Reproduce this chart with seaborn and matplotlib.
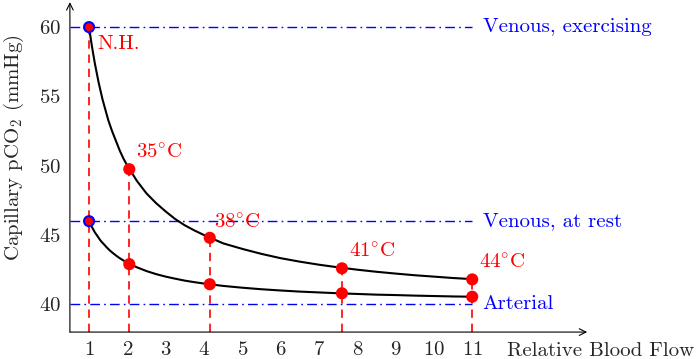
import matplotlib
matplotlib.use("Agg")
import matplotlib.pyplot as plt
import pandas as pd
import seaborn as sns

# curve points
CURVE_X = [1, 1.05, 1.1, 1.15, 1.2, 1.25, 1.3, 1.35, 1.4, 1.45, 1.5, 1.55, 1.6,
           1.7, 1.8, 1.9, 2, 2.25, 2.5, 2.75, 3, 3.25, 3.5, 3.75, 4, 4.5, 5,
           5.5, 6, 6.5, 7, 7.5, 8, 8.5, 9, 9.5, 10, 10.5, 11]
UPPER_Y = [60, 59.05, 58.2, 57.4, 56.7, 56, 55.4, 54.8, 54.3, 53.8, 53.3, 52.9,
           52.5, 51.8, 51.1, 50.5, 50, 48.9, 48, 47.3, 46.7, 46.15, 45.7, 45.33,
           45, 44.4, 44, 43.64, 43.33, 43.08, 42.86, 42.67, 42.5, 42.35, 42.22,
           42.1, 42, 41.9, 41.82]
LOWER_Y = [46, 45.7, 45.45, 45.2, 45, 44.8, 44.6, 44.44, 44.3, 44.14, 44, 43.87,
           43.75, 43.53, 43.33, 43.16, 43, 42.67, 42.4, 42.18, 42, 41.85, 41.71,
           41.6, 41.5, 41.33, 41.2, 41.09, 41, 40.92, 40.86, 40.8, 40.75, 40.7,
           40.67, 40.63, 40.6, 40.57, 40.55]

# marked temperatures
POINT_X = [1, 2.05, 4.15, 7.6, 11]
POINT_UPPER = [60, 49.75, 44.8, 42.6, 41.8]
POINT_LOWER = [46, 42.9, 41.45, 40.8, 40.55]
POINT_LABELS = ["N.H.", r"$\mathrm{35^{\circ}C}$", r"$\mathrm{38^{\circ}C}$",
                r"$\mathrm{41^{\circ}C}$", r"$\mathrm{44^{\circ}C}$"]

# reference levels
LEVELS = [60, 46, 40]
LEVEL_LABELS = ["Venous, exercising", "Venous, at rest", "Arterial"]

X_TICKS = list(range(1, 12))
Y_TICKS = [40, 45, 50, 55, 60]

sns.set_theme(style="white")
plt.rcParams["font.family"] = ["cmr10", "DejaVu Serif"]
plt.rcParams["mathtext.fontset"] = "cm"
plt.rcParams["axes.formatter.use_mathtext"] = True

FS = 15

fig = plt.figure(figsize=(6.99, 3.59), dpi=100)
ax = fig.add_axes([0.100, 0.075, 0.740, 0.919])
ax.set_xlim(0.5, 14.0)
ax.set_ylim(38, 61.8)

curves = pd.DataFrame({
    "x": CURVE_X * 2,
    "y": UPPER_Y + LOWER_Y,
    "curve": ["upper"] * len(CURVE_X) + ["lower"] * len(CURVE_X),
})

# reference levels
for lvl, lab in zip(LEVELS, LEVEL_LABELS):
    ax.plot([0.5, 11], [lvl, lvl], color="blue", lw=1.0,
            linestyle=(0, (7, 3, 1.2, 3)), zorder=2)
    ax.text(11.27, lvl, lab, color="blue", fontsize=FS, ha="left",
            va="center", clip_on=False)

# vertical red dashed drops
for px, py in zip(POINT_X, POINT_UPPER):
    ax.plot([px, px], [38, py], color="red", lw=1.2,
            linestyle=(0, (5, 3.5)), zorder=2)

sns.lineplot(data=curves, x="x", y="y", units="curve", estimator=None,
             color="black", lw=1.5, ax=ax, zorder=3, sort=False)

edge = ["blue"] + ["red"] * (len(POINT_X) - 1)
pts = pd.DataFrame({"x": POINT_X * 2, "y": POINT_UPPER + POINT_LOWER})
sns.scatterplot(data=pts, x="x", y="y", color="red", s=52,
                edgecolor=edge * 2, linewidth=1.5, ax=ax, zorder=4)

offsets = [(6, -19), (5, 5), (3, 4), (5, 5), (5, 5)]
for px, py, lab, off in zip(POINT_X, POINT_UPPER, POINT_LABELS, offsets):
    ax.annotate(lab, (px, py), xytext=off, textcoords="offset points",
                color="red", fontsize=FS, ha="left", va="bottom")

# axes with arrow heads
for s in ax.spines.values():
    s.set_visible(False)
ax.annotate("", xy=(1.0, 0), xytext=(0, 0), xycoords="axes fraction",
            arrowprops=dict(arrowstyle="->", color="black", lw=0.8,
                            shrinkA=0, shrinkB=0))
ax.annotate("", xy=(0, 1.0), xytext=(0, 0), xycoords="axes fraction",
            arrowprops=dict(arrowstyle="->", color="black", lw=0.8,
                            shrinkA=0, shrinkB=0))

ax.set_xticks(X_TICKS)
ax.set_yticks(Y_TICKS)
ax.tick_params(axis="both", direction="inout", length=5, width=0.6,
               color="#999999", labelsize=FS, pad=4)
ax.set_xlabel("")
ax.set_ylabel(r"Capillary pCO$_2$ (mmHg)", fontsize=FS)
ax.yaxis.set_label_coords(-0.085, 0.56)
ax.text(11.92, 36.6, "Relative Blood Flow", fontsize=FS, ha="left",
        va="center", clip_on=False)

fig.savefig("out.png", dpi=100)
